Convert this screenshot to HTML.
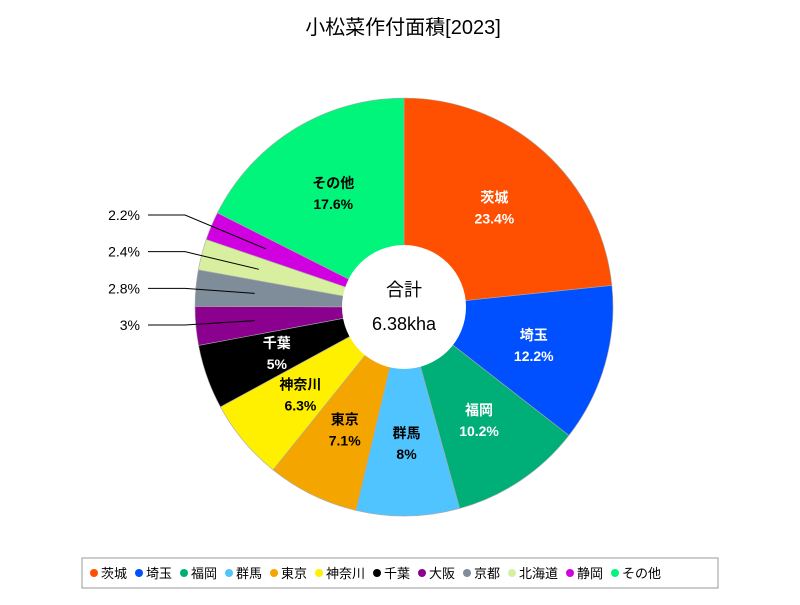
<!DOCTYPE html>
<html><head><meta charset="utf-8"><style>
body{margin:0;background:#fff;width:800px;height:600px;overflow:hidden;font-family:"Liberation Sans","Noto Sans CJK JP",sans-serif}
</style></head><body>
<svg id="chart" width="800" height="600" xmlns="http://www.w3.org/2000/svg" font-family="Liberation Sans, Noto Sans CJK JP, sans-serif">
<text x="403" y="34" text-anchor="middle" font-size="20">小松菜作付面積[2023]</text>
<g id="slices"></g><g id="labels"></g>
<circle cx="404" cy="307" r="62" fill="#fff"/>
<text x="404" y="296" text-anchor="middle" font-size="18">合計</text>
<text x="404" y="330" text-anchor="middle" font-size="18">6.38kha</text>
<rect x="82" y="558" width="636" height="30" fill="#fff" stroke="#999"/>
<g id="legend"></g>
</svg>
<script>
const categories=["茨城","埼玉","福岡","群馬","東京","神奈川","千葉","大阪","京都","北海道","静岡","その他"];
const values=[23.4,12.2,10.2,8,7.1,6.3,5,3,2.8,2.4,2.2,17.6];
const colors=["#ff4f00","#0050ff","#00ae78","#50c4ff","#f5a500","#fff000","#000000","#8b008f","#7f8c99","#d8efa0","#d000e0","#00f57a"];
const textColors=["#fff","#fff","#fff","#000","#000","#000","#fff",null,null,null,null,"#000"];
const NS="http://www.w3.org/2000/svg";
const cx=404,cy=307,R=209,r0=62,LR=135;
const total=values.reduce((a,b)=>a+b,0);
function pt(rad,a){return [cx+rad*Math.sin(a),cy-rad*Math.cos(a)];}
const gS=document.getElementById('slices'),gL=document.getElementById('labels'),gG=document.getElementById('legend');
let a=0;
const outside=[];
values.forEach((v,i)=>{
  const a1=a+v/total*2*Math.PI;
  const [x0,y0]=pt(R,a),[x1,y1]=pt(R,a1);
  const p=document.createElementNS(NS,'path');
  p.setAttribute('d',`M${cx},${cy}L${x0},${y0}A${R},${R} 0 ${a1-a>Math.PI?1:0} 1 ${x1},${y1}Z`);
  p.setAttribute('fill',colors[i]);p.setAttribute('stroke','#aaa');p.setAttribute('stroke-width','0.6');
  
  
  gS.appendChild(p);
  const mid=(a+a1)/2;
  if(textColors[i]){
    const [lx,ly]=pt(LR,mid);
    const t=document.createElementNS(NS,'text');
    t.setAttribute('x',lx);t.setAttribute('y',ly-4);t.setAttribute('text-anchor','middle');
    t.setAttribute('font-size','14');t.setAttribute('font-weight','bold');t.setAttribute('fill',textColors[i]);
    
    
    const s1=document.createElementNS(NS,'tspan');s1.setAttribute('x',lx);s1.textContent=categories[i];
    const s2=document.createElementNS(NS,'tspan');s2.setAttribute('x',lx);s2.setAttribute('dy','21');s2.textContent=v+'%';
    t.appendChild(s1);t.appendChild(s2);gL.appendChild(t);
  } else outside.push([i,mid]);
  a=a1;
});
// outside labels, stacked from bottom
outside.forEach(([i,mid],k)=>{
  const [ex,ey]=pt(150,mid);
  const ly=325-(k)*((325-215)/(outside.length-1));
  const l=document.createElementNS(NS,'polyline');
  l.setAttribute('points',`148,${ly} 185,${ly} ${ex},${ey}`);
  l.setAttribute('fill','none');l.setAttribute('stroke','#000');l.setAttribute('stroke-width','1');
  
  
  gL.appendChild(l);
  const t=document.createElementNS(NS,'text');
  t.setAttribute('x',140);t.setAttribute('y',ly+5);t.setAttribute('text-anchor','end');t.setAttribute('font-size','14');
  
  
  t.textContent=values[i]+'%';gL.appendChild(t);
});
// legend
let x=90;
categories.forEach((c,i)=>{
  const d=document.createElementNS(NS,'circle');
  d.setAttribute('cx',x+4);d.setAttribute('cy',573);d.setAttribute('r',4);d.setAttribute('fill',colors[i]);
  
  
  gG.appendChild(d);
  const t=document.createElementNS(NS,'text');
  t.setAttribute('x',x+11);t.setAttribute('y',578);t.setAttribute('font-size','13');
  
  
  t.textContent=c;gG.appendChild(t);
  x+=11+c.length*13+8;
});
</script>
</body></html>
